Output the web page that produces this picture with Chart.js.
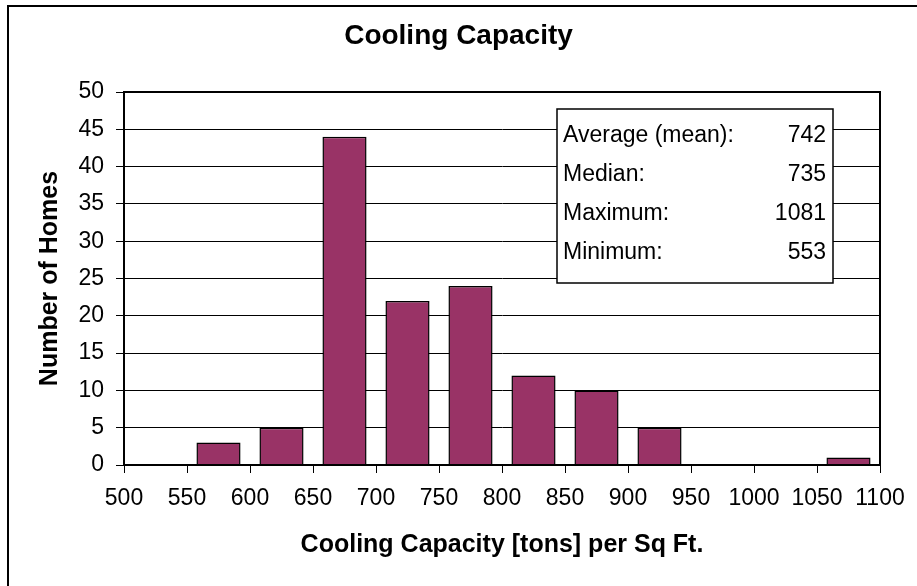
<!DOCTYPE html>
<html lang="en">
<head>
    <meta charset="UTF-8">
    <title>Cooling Capacity</title>
    <script src="https://cdn.jsdelivr.net/npm/chart.js"></script>
    <style>
        body { margin: 0; background: #fff; }
        .contenedor { position: relative; width: 917px; height: 586px; }
    </style>
</head>
<body>
    <div class="contenedor">
        <canvas id="grafico"></canvas>
    </div>

    <script>
        // histogram bins (lower edge, width 50) and counts
        let binStart = [500, 550, 600, 650, 700, 750, 800, 850, 900, 950, 1000, 1050];
        let homes = [0, 3, 5, 44, 22, 24, 12, 10, 5, 0, 0, 1];
        let binWidth = 50;

        let statLabels = ['Average (mean):', 'Median:', 'Maximum:', 'Minimum:'];
        let statValues = ['742', '735', '1081', '553'];

        let fam = '"Liberation Sans", Arial, sans-serif';

        let puntos = binStart.map((b, i) => ({ x: b + binWidth / 2, y: homes[i] }));

        // frame, plot border and the stats box
        let marcos = {
            id: 'marcos',
            beforeDraw(chart) {
                let c = chart.ctx;
                c.save();
                c.strokeStyle = '#000';
                c.lineWidth = 2;
                c.strokeRect(8, 6, 940, 620);
                c.restore();
            },
            afterDatasetsDraw(chart) {
                let c = chart.ctx, a = chart.chartArea;
                c.save();
                c.strokeStyle = '#000';
                c.lineWidth = 2;
                c.strokeRect(a.left, a.top, a.right - a.left, a.bottom - a.top);

                // stats box
                let bx = a.left + 433, by = a.top + 17, bw = 276, bh = 174;
                c.fillStyle = '#fff';
                c.fillRect(bx, by, bw, bh);
                c.lineWidth = 1.5;
                c.strokeRect(bx, by, bw, bh);
                c.fillStyle = '#000';
                c.font = '23px ' + fam;
                c.textBaseline = 'middle';
                statLabels.forEach((t, i) => {
                    let y = by + 27 + i * 39;
                    c.textAlign = 'left';
                    c.fillText(t, bx + 6, y);
                    c.textAlign = 'right';
                    c.fillText(statValues[i], bx + bw - 7, y);
                });
                c.restore();
            }
        };

        let ctx = document.getElementById('grafico').getContext('2d');
        let chart = new Chart(ctx, {
            type: 'bar',
            data: {
                datasets: [{
                    label: 'Number of Homes',
                    data: puntos,
                    backgroundColor: '#993366',
                    borderColor: '#000',
                    borderWidth: 1.5,
                    barPercentage: 0.7,
                    categoryPercentage: 1
                }]
            },
            options: {
                responsive: true,
                maintainAspectRatio: false,
                animation: false,
                layout: { padding: 0 },
                plugins: {
                    legend: { display: false },
                    tooltip: { enabled: false },
                    title: {
                        display: true,
                        text: 'Cooling Capacity',
                        color: '#000',
                        font: { family: fam, size: 28, weight: 'bold', lineHeight: 1.2 },
                        padding: { top: 19, bottom: 39.4 }
                    }
                },
                scales: {
                    x: {
                        type: 'linear',
                        min: 500,
                        max: 1100,
                        offset: false,
                        afterFit(s) { s.height = 121; s.paddingRight = 37; s.paddingLeft = 0; },
                        ticks: {
                            stepSize: 50,
                            color: '#000',
                            padding: 12,
                            maxRotation: 0,
                            autoSkip: false,
                            callback: v => String(v),
                            font: { family: fam, size: 23 }
                        },
                        grid: { offset: false, drawOnChartArea: false, color: '#000', tickLength: 8, lineWidth: 1 },
                        border: { color: '#000', width: 2 },
                        title: {
                            display: true,
                            text: 'Cooling Capacity [tons] per Sq Ft.',
                            color: '#000',
                            font: { family: fam, size: 25, weight: 'bold', lineHeight: 1.2 },
                            padding: { top: 0, bottom: 26 }
                        }
                    },
                    y: {
                        min: 0,
                        max: 50,
                        afterFit(s) { s.width = 124; },
                        ticks: {
                            stepSize: 5,
                            color: '#000',
                            padding: 12,
                            font: { family: fam, size: 23 }
                        },
                        grid: { color: '#000', tickLength: 8, lineWidth: 1 },
                        border: { color: '#000', width: 2 },
                        title: {
                            display: true,
                            text: 'Number of Homes',
                            color: '#000',
                            font: { family: fam, size: 25, weight: 'bold', lineHeight: 1.2 },
                            padding: { top: 35, bottom: 0 }
                        }
                    }
                }
            },
            plugins: [marcos]
        });
    </script>
</body>
</html>
